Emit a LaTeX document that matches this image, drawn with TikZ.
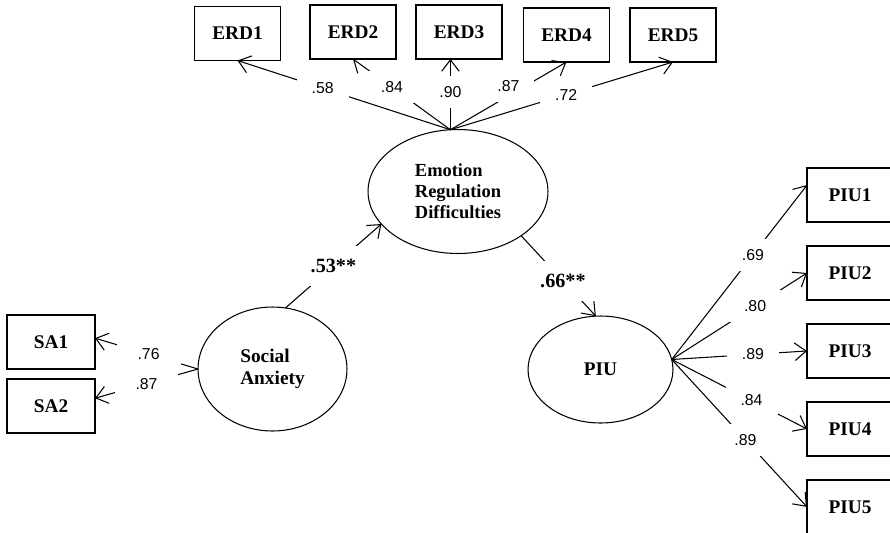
\documentclass[tikz,border=0pt]{standalone}
\usepackage{fontspec}
\setmainfont{Liberation Serif}
\newfontfamily\coeffont{Liberation Sans}
\usetikzlibrary{arrows.meta, positioning, shapes.geometric}

\begin{document}
\begin{tikzpicture}[x=0.02cm, y=-0.02cm, line width=0.6pt,
                >={Straight Barb[length=6.5pt, width=10pt]},
                ind/.style={draw, line width=0.7pt, minimum width=1.72cm, minimum height=1.08cm, outer sep=0pt, font=\bfseries\fontsize{11}{13}\selectfont},
                lat/.style={draw, ellipse, outer sep=0pt, inner sep=0pt, align=left, font=\bfseries\fontsize{11}{12.5}\selectfont},
                coef/.style={fill=white, inner sep=0pt, minimum width=1.04cm, minimum height=0.64cm, font=\coeffont\fontsize{9}{10}\selectfont},
                beta/.style={fill=white, inner sep=0pt, minimum width=1.28cm, minimum height=0.8cm, font=\bfseries\fontsize{11.5}{13}\selectfont}]

                \clip (0,0) rectangle (890,532);

                % Latent variables
                \node[lat, minimum width=3.6cm, minimum height=2.48cm, font=\bfseries\fontsize{10.5}{12}\selectfont] (erd) at (458,191.5) {Emotion\\Regulation\\Difficulties};
                \node[lat, minimum width=2.98cm, minimum height=2.48cm] (sa) at (272.5,369) {Social\\Anxiety};
                \node[lat, minimum width=2.9cm, minimum height=2.14cm] (piu) at (600.5,369.5) {PIU};

                % ERD indicators (top row)
                \node[ind] (erd1) at (237.5,33.5) {ERD1};
                \node[ind] (erd2) at (353,32) {ERD2};
                \node[ind] (erd3) at (459,32) {ERD3};
                \node[ind] (erd4) at (566.5,35) {ERD4};
                \node[ind] (erd5) at (673,35) {ERD5};

                % SA indicators (left)
                \node[ind, minimum width=1.76cm] (sa1) at (51,342) {SA1};
                \node[ind, minimum width=1.76cm, below=0.2cm of sa1] (sa2) {SA2};

                % PIU indicators (right)
                \node[ind] (piu1) at (850,195) {PIU1};
                \node[ind, below=0.48cm of piu1] (piu2) {PIU2};
                \node[ind, below=0.48cm of piu2] (piu3) {PIU3};
                \node[ind, below=0.48cm of piu3] (piu4) {PIU4};
                \node[ind, below=0.48cm of piu4] (piu5) {PIU5};

                % ERD loadings
                \coordinate (erdsrc) at (erd.97);
                \draw[->] (erdsrc) -- node[coef, pos=0.6] {.84} (erd2.south);
                \draw[->] (erdsrc) -- node[coef, pos=0.6] {.58} (erd1.south);
                \draw[->] (erdsrc) -- node[coef, pos=0.53] {.90} (erdsrc |- erd3.south);
                \draw[->] (erdsrc) -- node[coef, pos=0.5, yshift=0.2cm] {.87} (erd4.south);
                \draw[->] (erdsrc) -- node[coef, pos=0.52] {.72} (erd5.south);

                % SA loadings
                \draw[->] (sa.west) -- node[coef, pos=0.48, minimum width=1.28cm] {.76} (sa1.5);
                \draw[->] (sa.west) -- node[coef, pos=0.5, minimum width=1.28cm] {.87} (sa2.10);

                % PIU loadings
                \coordinate (piusrc) at (piu.8);
                \draw[->] (piusrc) -- node[coef, pos=0.6] {.69} (piu1.167);
                \draw[->] (piusrc) -- node[coef, pos=0.616] {.80} (piu2.west);
                \draw[->] (piusrc) -- node[coef, pos=0.6] {.89} (piu3.west);
                \draw[->] (piusrc) -- node[coef, pos=0.59] {.84} (piu4.west);
                \draw[->] (piusrc) -- node[coef, pos=0.545] {.89} (piu5.west);

                % Structural paths
                \draw[->] (sa.78) -- node[beta, pos=0.5] {.53**} (erd.203);
                \draw[->] (erd.325) -- node[beta, pos=0.56] {.66**} (piu.95);
            \end{tikzpicture}
\end{document}
